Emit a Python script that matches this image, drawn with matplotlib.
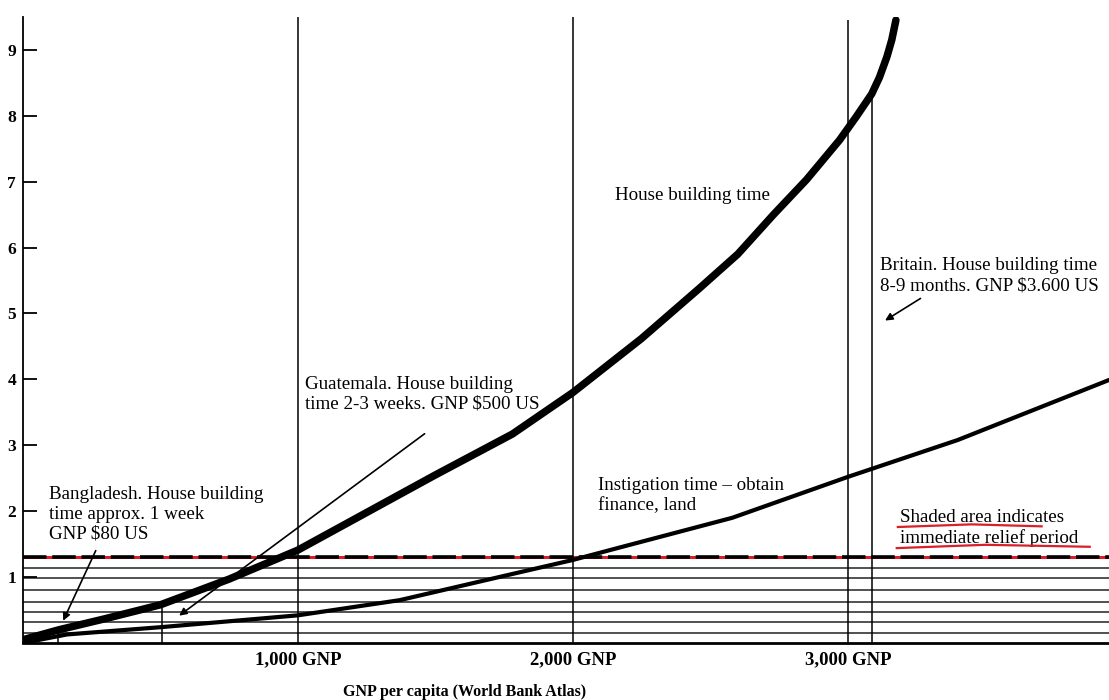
import matplotlib.pyplot as plt

plt.rcParams['font.family'] = ['Liberation Serif', 'DejaVu Serif']

# House building time (years) against GNP per capita
house_gnp = [0, 130, 300, 500, 750, 1000, 1250, 1500, 1780, 2000, 2250, 2460,
             2600, 2730, 2850, 2970, 3030, 3087, 3115, 3142, 3160, 3175]
house_time = [0.05, 0.2, 0.37, 0.58, 0.97, 1.41, 1.98, 2.55, 3.17, 3.8, 4.62, 5.38,
              5.9, 6.5, 7.03, 7.63, 7.98, 8.33, 8.58, 8.89, 9.15, 9.45]

# Instigation time - obtain finance, land
inst_gnp = [0, 160, 500, 1000, 1370, 1700, 2000, 2135, 2580, 3000, 3400, 3950]
inst_time = [0.0, 0.13, 0.24, 0.42, 0.65, 0.97, 1.26, 1.41, 1.9, 2.52, 3.08, 3.99]

# shaded (hatched) relief period lines and its dashed upper limit
relief_levels = [0.15, 0.32, 0.47, 0.62, 0.80, 0.98, 1.14]
relief_top = 1.3

# reference verticals: full-height grid lines and country markers
grid_gnp = [1000, 2000]
country_gnp = [127, 505, 3000, 3087]
country_top = [0.15, 0.58, 9.45, 8.3]

xticks = [1000, 2000, 3000]
xtick_labels = ['1,000 GNP', '2,000 GNP', '3,000 GNP']
yticks = [1, 2, 3, 4, 5, 6, 7, 8, 9]

fig = plt.figure(figsize=(11.09, 7.0), dpi=100)
ax = fig.add_axes([0.0207, 0.0814, 0.9793, 0.8946])
ax.set_xlim(0, 3950)
ax.set_ylim(0, 9.5)

# hatched relief area
for lvl in relief_levels:
    ax.axhline(lvl, color='#222222', lw=1.1, zorder=1)
ax.axhline(relief_top, color='#d8202a', lw=2.2, zorder=2)
ax.axhline(relief_top, color='black', lw=2.6, dashes=(6.5, 1.6), zorder=3)

# vertical lines
ax.vlines(grid_gnp, 0, 9.5, color='black', lw=1.1, zorder=2)
ax.vlines(country_gnp, 0, country_top, color='black', lw=1.1, zorder=2)

# curves
ax.plot(house_gnp, house_time, color='black', lw=5.4, solid_capstyle='round',
        solid_joinstyle='round', zorder=5)
ax.plot(inst_gnp, inst_time, color='black', lw=3.0, solid_joinstyle='round', zorder=5)

txt = dict(fontsize=13.7, color='black', va='top', ha='left', linespacing=1.22)
ax.text(2153, 6.92, 'House building time', **txt)
ax.text(1025, 4.05, 'Guatemala. House building\ntime 2-3 weeks. GNP $500 US', **txt)
ax.text(95, 2.38, 'Bangladesh. House building\ntime approx. 1 week\nGNP $80 US', **txt)
ax.text(2091, 2.52, 'Instigation time \u2013 obtain\nfinance, land', **txt)
ax.text(3116, 5.85, 'Britain. House building time\n8-9 months. GNP $3.600 US', **txt)
ax.text(3190, 2.03, 'Shaded area indicates\nimmediate relief period', **txt)

# red hand-drawn underlines
ax.plot([3182, 3450, 3705], [1.76, 1.80, 1.77], color='#d8202a', lw=1.6, zorder=4)
ax.plot([3178, 3500, 3880], [1.44, 1.49, 1.46], color='#d8202a', lw=1.6, zorder=4)

arrow = dict(arrowstyle='-|>', color='black', lw=1.2, mutation_scale=11)
ax.annotate('', xy=(142, 0.3), xytext=(269, 1.44), arrowprops=arrow, zorder=6)
ax.annotate('', xy=(560, 0.39), xytext=(1469, 3.2), arrowprops=arrow, zorder=6)
ax.annotate('', xy=(3127, 4.87), xytext=(3273, 5.25), arrowprops=arrow, zorder=6)

# axes styling
for side in ['top', 'right']:
    ax.spines[side].set_visible(False)
ax.spines['left'].set_linewidth(1.3)
ax.spines['bottom'].set_linewidth(2.0)

ax.set_yticks(yticks)
ax.set_yticklabels([str(v) for v in yticks], fontsize=12.5, fontweight='bold')
ax.tick_params(axis='y', direction='in', length=10, width=1.3, pad=5)
ax.set_xticks(xticks)
ax.set_xticklabels(xtick_labels, fontsize=13.5, fontweight='bold')
ax.tick_params(axis='x', length=0, pad=6)

ax.set_xlabel('GNP per capita (World Bank Atlas)', fontsize=11.5, fontweight='bold')
ax.xaxis.set_label_coords(0.407, -0.065)

fig.savefig('out.png', dpi=100)
